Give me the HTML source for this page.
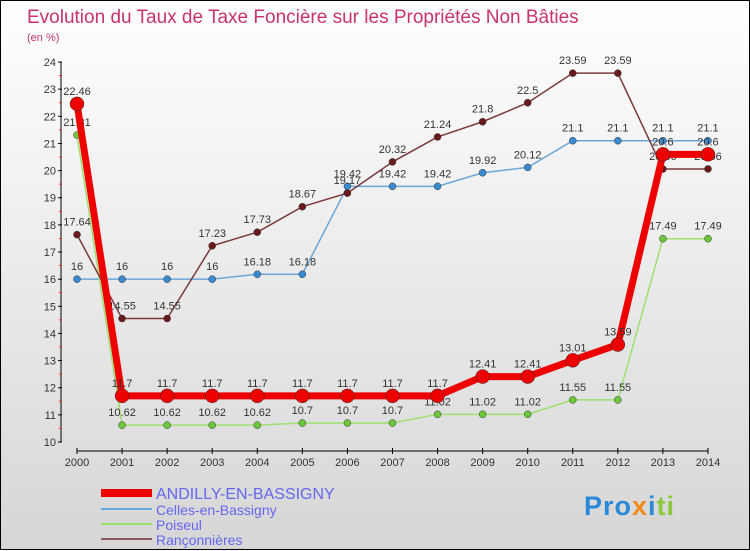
<!DOCTYPE html>
<html><head><meta charset="utf-8"><style>
body{margin:0}
#c{width:748px;height:548px;border:1px solid #000;background:linear-gradient(#fff,#d6d6d6);position:relative;font-family:"Liberation Sans",sans-serif}
svg{position:absolute;left:0;top:0}
</style></head><body>
<div id="c">
<svg id="s" width="750" height="550">
<text x="26" y="22" font-size="19" fill="#c8336a">Evolution du Taux de Taxe Foncière sur les Propriétés Non Bâties</text>
<text x="26" y="40" font-size="11" fill="#c8336a">(en %)</text>
</svg>
<div style="position:absolute;left:583px;top:490px;font-size:27px;font-weight:bold;letter-spacing:1px"><span style="color:#2a8ad8">Pro</span><span style="color:#f08a1a">x</span><span style="color:#2a8ad8">i</span><span style="color:#8cc83a">ti</span></div>
</div>
<script>
const years=[2000,2001,2002,2003,2004,2005,2006,2007,2008,2009,2010,2011,2012,2013,2014];
const andilly=[22.46,11.7,11.7,11.7,11.7,11.7,11.7,11.7,11.7,12.41,12.41,13.01,13.59,20.6,20.6];
const celles=[16,16,16,16,16.18,16.18,19.42,19.42,19.42,19.92,20.12,21.1,21.1,21.1,21.1];
const poiseul=[21.31,10.62,10.62,10.62,10.62,10.7,10.7,10.7,11.02,11.02,11.02,11.55,11.55,17.49,17.49];
const rancon=[17.64,14.55,14.55,17.23,17.73,18.67,19.17,20.32,21.24,21.8,22.5,23.59,23.59,20.06,20.06];
const yTicks=[10,11,12,13,14,15,16,17,18,19,20,21,22,23,24];
const seriesNames=["ANDILLY-EN-BASSIGNY","Celles-en-Bassigny","Poiseul","Rançonnières"];
const NS="http://www.w3.org/2000/svg",s=document.getElementById('s');
const X=y=>76+(y-2000)*45.07, Y=v=>441-(v-10)*27.14;
function el(t,a,txt){const e=document.createElementNS(NS,t);for(const k in a)e.setAttribute(k,a[k]);if(txt!=null)e.textContent=txt;s.appendChild(e);return e;}
let ax=el('line',{x1:60,y1:61,x2:60,y2:441,stroke:'#000'});


yTicks.forEach(v=>{el('line',{x1:57,x2:61,y1:Y(v),y2:Y(v),stroke:'#000'});
let t=el('text',{x:55,y:Y(v)+4,'font-size':11,'text-anchor':'end',fill:'#333'},v);


if(v<24)el('line',{x1:58,x2:61,y1:Y(v+0.5),y2:Y(v+0.5),stroke:'#e33'});});
let xa=el('line',{x1:76,y1:450,x2:707,y2:450,stroke:'#000'});


years.forEach(y=>{el('line',{x1:X(y),x2:X(y),y1:447,y2:453,stroke:'#000'});
let t=el('text',{x:X(y),y:465,'font-size':11,'text-anchor':'middle',fill:'#333'},y);

});
function series(d,col,dot,w,r,name,lab){
 let p=el('polyline',{points:d.map((v,i)=>X(years[i])+','+Y(v)).join(' '),fill:'none',stroke:col,'stroke-width':w});
 
 
 d.forEach((v,i)=>{let c=el('circle',{cx:X(years[i]),cy:Y(v),r:r,fill:dot,stroke:'#333','stroke-width':0.5});
 
 
 let t=el('text',{x:X(years[i]),y:Y(v)-9,'font-size':11,'text-anchor':'middle',fill:'#333'},v);
 
 });
}
series(celles,'#6aa6d8','#3a8ad0',1.5,3.5,'celles');
series(poiseul,'#9ee070','#6cc83a',1.5,3.5,'poiseul');
series(rancon,'#7a3a3a','#6a1a1a',1.5,3.5,'rancon');
series(andilly,'#ee0000','#ee0000',7,7,'andilly');
const lc=['#ee0000','#6aa6d8','#9ee070','#8a5a5a'],lw=[8,2,2,2],ly=[492,508,523,538];
seriesNames.forEach((n,i)=>{el('line',{x1:100,x2:151,y1:ly[i],y2:ly[i],stroke:lc[i],'stroke-width':lw[i]});
let t=el('text',{x:155,y:ly[i]+6,'font-size':i==0?16:14,fill:'#6666ee'},n);

});
</script>
</body></html>
